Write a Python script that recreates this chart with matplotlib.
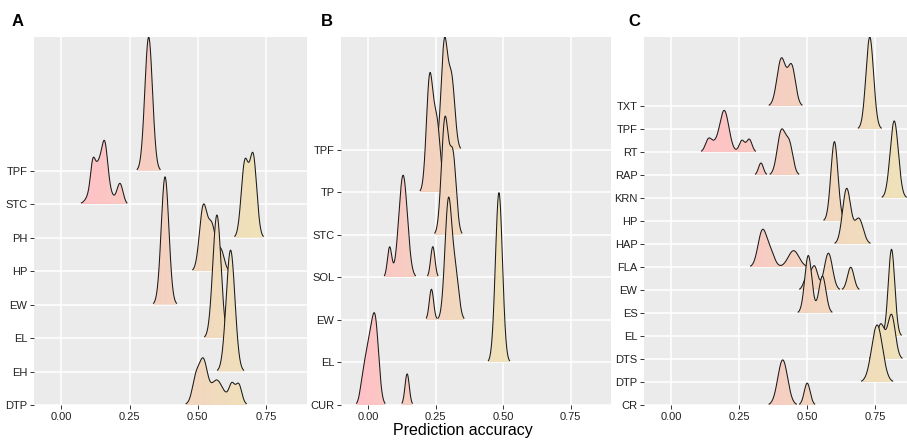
import numpy as np
import matplotlib.pyplot as plt
from matplotlib.colors import LinearSegmentedColormap
from matplotlib.patches import Polygon

plt.rcParams['font.family'] = ['Liberation Sans', 'DejaVu Sans']

# each ridge: list of (accuracy, height, spread) modes
a_labels = ['DTP', 'EH', 'EL', 'EW', 'HP', 'PH', 'STC', 'TPF']
a_modes = [
    [(0.565, 0.45, 0.045), (0.493, 0.7, 0.013), (0.52, 1.05, 0.014), (0.57, 0.3, 0.016),
     (0.625, 0.45, 0.01), (0.65, 0.55, 0.011)],
    [(0.62, 3.63, 0.016)],
    [(0.57, 3.68, 0.015)],
    [(0.38, 3.82, 0.014)],
    [(0.52, 1.9, 0.014), (0.552, 1.3, 0.014), (0.585, 0.6, 0.012)],
    [(0.672, 2.2, 0.013), (0.703, 2.4, 0.013)],
    [(0.142, 1.3, 0.026), (0.115, 0.6, 0.008), (0.16, 0.85, 0.01), (0.215, 0.6, 0.011)],
    [(0.32, 4.0, 0.014)],
]

b_labels = ['CUR', 'EL', 'EW', 'SOL', 'STC', 'TP', 'TPF']
b_modes = [
    [(0.027, 1.85, 0.013), (0.002, 1.25, 0.014), (-0.02, 0.4, 0.01), (0.145, 0.73, 0.008)],
    [(0.485, 3.99, 0.013)],
    [(0.235, 0.72, 0.008), (0.298, 2.8, 0.013), (0.325, 1.0, 0.012)],
    [(0.08, 0.7, 0.008), (0.13, 2.4, 0.016), (0.24, 0.72, 0.008)],
    [(0.285, 2.7, 0.013), (0.315, 1.8, 0.012)],
    [(0.228, 2.6, 0.012), (0.255, 1.6, 0.013)],
    [(0.283, 2.5, 0.012), (0.31, 1.6, 0.012)],
]

c_labels = ['CR', 'DTP', 'DTS', 'EL', 'ES', 'EW', 'FLA', 'HAP', 'HP', 'KRN', 'RAP', 'RT', 'TPF', 'TXT']
c_modes = [
    [(0.41, 1.96, 0.018), (0.50, 0.95, 0.011)],
    [(0.757, 2.48, 0.02)],
    [(0.77, 1.5, 0.015), (0.81, 1.9, 0.014)],
    [(0.81, 3.77, 0.012)],
    [(0.504, 2.5, 0.013), (0.556, 1.6, 0.013)],
    [(0.50, 0.6, 0.012), (0.527, 1.0, 0.012), (0.578, 1.6, 0.015), (0.66, 0.99, 0.012)],
    [(0.335, 1.55, 0.016), (0.365, 0.6, 0.015), (0.45, 0.71, 0.02)],
    [(0.645, 2.4, 0.015), (0.69, 1.1, 0.016)],
    [(0.6, 3.45, 0.013)],
    [(0.82, 3.35, 0.015)],
    [(0.33, 0.52, 0.009), (0.405, 1.9, 0.015), (0.435, 1.25, 0.013)],
    [(0.136, 0.45, 0.011), (0.155, 0.3, 0.015), (0.195, 1.8, 0.017), (0.26, 0.5, 0.01),
     (0.287, 0.55, 0.01)],
    [(0.73, 4.0, 0.014)],
    [(0.405, 2.05, 0.016), (0.443, 1.7, 0.014)],
]

xticks = [0.0, 0.25, 0.5, 0.75]
xticklabels = ['0.00', '0.25', '0.50', '0.75']

cmap = LinearSegmentedColormap.from_list('pk', ['#FFC1C6', '#F3D3C0', '#EFE3BA'])


def ridge_density(grid, comps):
    d = np.zeros_like(grid)
    for m, h, s in comps:
        d += h * np.exp(-(grid - m) ** 2 / (2 * s * s))
    return d


def draw_panel(ax, labels, modes, letter_x, letter):
    grid = np.linspace(-0.2, 1.0, 3000)
    dens = [ridge_density(grid, c) for c in modes]
    cut = 0.01 * max(d.max() for d in dens)
    top = max(i + 1 + d.max() for i, d in enumerate(dens))
    alive = np.any([d > cut for d in dens], axis=0)
    lo, hi = grid[alive].min(), grid[alive].max()
    grad = np.linspace(0, 1, 256).reshape(1, -1)

    n = len(labels)
    for i in range(n - 1, -1, -1):
        d = dens[i]
        y0 = i + 1
        z = 2 + (n - i)
        mask = d > cut
        idx = np.flatnonzero(mask)
        segs = np.split(idx, np.where(np.diff(idx) > 1)[0] + 1)
        for seg in segs:
            if len(seg) < 2:
                continue
            xs = grid[seg]
            ys = y0 + d[seg]
            verts = [(xs[0], y0)] + list(zip(xs, ys)) + [(xs[-1], y0)]
            patch = Polygon(verts, closed=True, facecolor='none', edgecolor='none', zorder=z)
            ax.add_patch(patch)
            im = ax.imshow(grad, extent=[lo, hi, y0, y0 + d.max()], aspect='auto',
                           cmap=cmap, zorder=z, origin='lower', interpolation='bilinear')
            im.set_clip_path(patch)
            ax.plot(xs, ys, color='#1a1a1a', lw=0.75, zorder=z + 0.5)

    ax.set_facecolor('#EBEBEB')
    for sp in ax.spines.values():
        sp.set_visible(False)
    ax.set_xlim(-0.1, 0.9)
    ax.set_ylim(1, top)
    ax.set_xticks(xticks)
    ax.set_xticklabels(xticklabels)
    ax.set_yticks(range(1, n + 1))
    ax.set_yticklabels(labels)
    ax.grid(True, color='white', lw=1.1)
    ax.set_axisbelow(True)
    ax.tick_params(length=2.7, width=0.7, color='#333333', labelsize=8,
                   labelcolor='#222222', pad=2)
    fig.text(letter_x, 1 - 22 / 441, letter, fontsize=12, fontweight='bold', va='center')


fig = plt.figure(figsize=(9.07, 4.41), dpi=100)
W, H = 907, 441
bottom = (H - 405) / H
height = 368 / H
ax_a = fig.add_axes([34 / W, bottom, 273 / W, height])
ax_b = fig.add_axes([341 / W, bottom, 270 / W, height])
ax_c = fig.add_axes([644 / W, bottom, 272 / W, height])

draw_panel(ax_a, a_labels, a_modes, 12 / W, 'A')
draw_panel(ax_b, b_labels, b_modes, 321 / W, 'B')
draw_panel(ax_c, c_labels, c_modes, 628 / W, 'C')

fig.text(463 / W, 1 - 431 / H, 'Prediction accuracy', fontsize=11.5, ha='center', va='center')

fig.savefig('out.png', dpi=100)
